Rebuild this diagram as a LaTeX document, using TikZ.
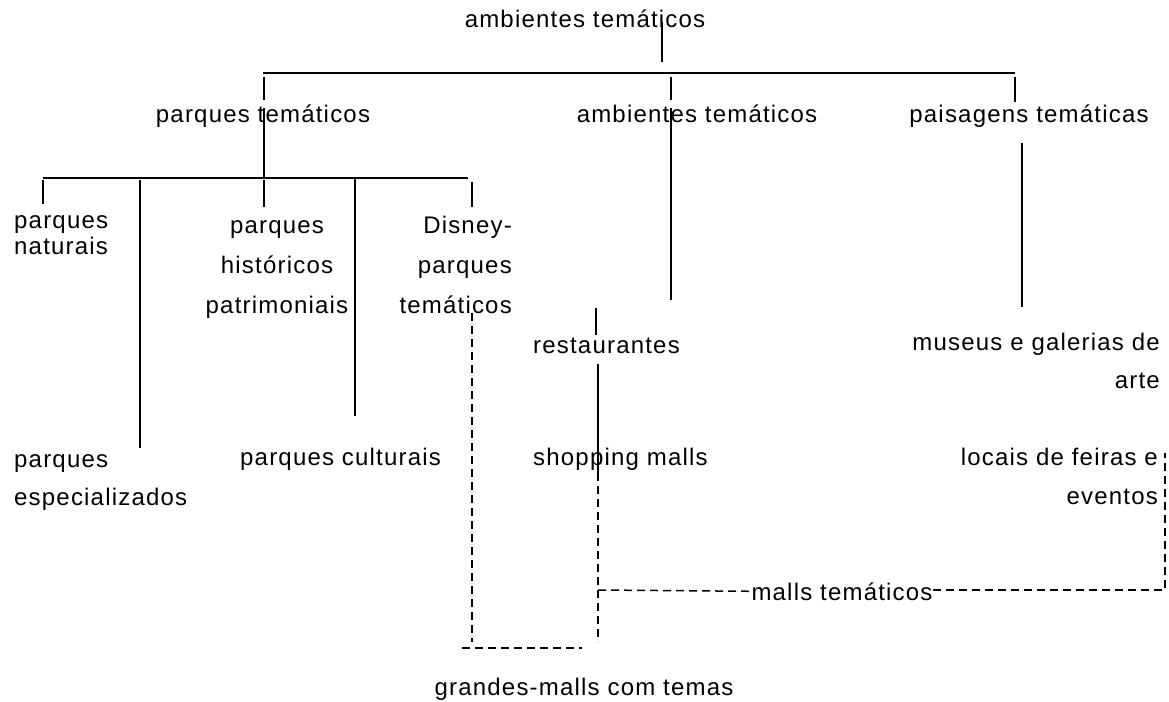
\documentclass[tikz,border=0pt]{standalone}
\usepackage{fontspec}
\setmainfont{Liberation Sans}[LetterSpace=5]
\tikzset{
  lbl/.style={inner sep=0pt, font=\fontsize{24}{40}\selectfont},
  lnk/.style={line width=1.4pt},
  bar/.style={line width=2.4pt},
  dlnk/.style={line width=1.5pt, dash pattern=on 8pt off 5pt},
}
\begin{document}
\begin{tikzpicture}[x=1pt,y=-1pt]
\useasboundingbox (0,0) rectangle (1169,701);
\node[lbl,anchor=base] (top) at (585,28) {ambientes temáticos};
\node[lbl,anchor=base] (pt) at (263,122) {parques temáticos};
\node[lbl,anchor=base] (at) at (697,122) {ambientes temáticos};
\node[lbl,anchor=base] (pg) at (1029,122) {paisagens temáticas};
\node[lbl,anchor=base west,align=left] (pn) at (14,254) {parques\\[-14pt]naturais};
\node[lbl,anchor=base,align=center] (ph) at (277,313) {parques\\históricos\\patrimoniais};
\node[lbl,anchor=base east,align=right] (pd) at (512,313) {Disney-\\parques\\temáticos};
\node[lbl,anchor=base west,align=left] (pe) at (14,505) {parques\\[-2pt]especializados};
\node[lbl,anchor=base west] (pc) at (240,465) {parques culturais};
\node[lbl,anchor=base west] (re) at (533,353) {restaurantes};
\node[lbl,anchor=base west] (sm) at (533,465) {shopping malls};
\node[lbl,anchor=base east,align=right] (mu) at (1160,388) {museus e galerias de\\[-2pt]arte};
\node[lbl,anchor=base east,align=right] (lo) at (1158,504) {locais de feiras e\\[-1pt]eventos};
\node[lbl,anchor=base] (mt) at (842,600) {malls temáticos};
\node[lbl,anchor=base] (gm) at (584,695) {grandes-malls com temas};

\coordinate (t1) at (662,22); \coordinate (t2) at (662,62);
\coordinate (b1w) at (263,73); \coordinate (b1e) at (1015,73);
\coordinate (b2w) at (43,178); \coordinate (b2e) at (468,178);
\coordinate (pt1) at (264,108); \coordinate (at1) at (671,108); \coordinate (at2) at (671,300);
\coordinate (pg1) at (1022,143); \coordinate (pg2) at (1022,307);
\coordinate (re1) at (596,308); \coordinate (re2) at (596,335);
\coordinate (re3) at (598,364); \coordinate (re4) at (598,473); \coordinate (re5) at (598,642);
\coordinate (pd1) at (472,313); \coordinate (pd2) at (472,642);
\coordinate (gm1) at (462,648); \coordinate (gm2) at (582,648);
\coordinate (mt1) at (598,590); \coordinate (mt2) at (1165,590); \coordinate (lo1) at (1165,453);

\draw[lnk] (t1) -- (t2);
\draw[bar] (b1w) -- (b1e);
\foreach \x/\y in {264/100,671/100,1015/102}
  \draw[lnk] (\x,77) -- (\x,\y);
\draw[lnk] (pt1) -- (pt1 |- b2w);
\draw[bar,line width=2pt] (b2w) -- (b2e);
\foreach \x/\a/\y in {43/180/204,140/180/448,264/180/207,355/178/416,472/182/207}
  \draw[lnk] (\x,\a) -- (\x,\y);
\draw[lnk] (at1) -- (at2);
\draw[lnk] (pg1) -- (pg2);
\draw[lnk] (re1) -- (re2);
\draw[lnk] (re3) -- (re4);
\draw[dlnk] (re4) -- (re5);
\draw[dlnk] (pd1) -- (pd2);
\draw[dlnk] (gm1) -- (gm2);
\draw[dlnk] (mt1) -- (mt.west);
\draw[dlnk] (mt.east |- mt2) -- (mt2) -- (lo1);
\end{tikzpicture}
\end{document}
